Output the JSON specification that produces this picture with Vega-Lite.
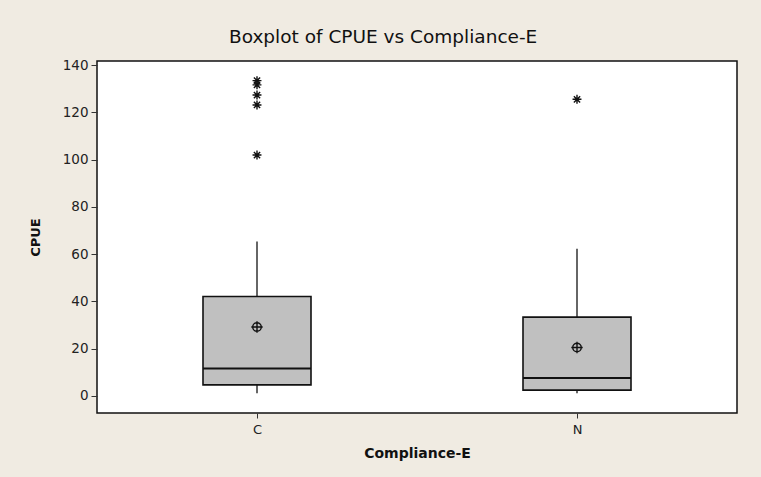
{
  "$schema": "https://vega.github.io/schema/vega-lite/v6.json",
  "width": 640,
  "height": 352,
  "autosize": {"type": "none"},
  "padding": {"left": 97, "top": 61, "right": 24, "bottom": 64},
  "background": "#f0ebe2",
  "title": {
    "text": "Boxplot of CPUE vs Compliance-E",
    "frame": "bounds",
    "anchor": "middle",
    "font": "DejaVu Sans",
    "fontSize": 18.5,
    "fontWeight": "normal",
    "color": "#111111",
    "offset": 12
  },
  "config": {
    "view": {"stroke": "#111111", "strokeWidth": 1.5, "fill": "white"},
    "axis": {
      "labelFont": "DejaVu Sans",
      "titleFont": "DejaVu Sans",
      "labelColor": "#222222",
      "titleColor": "#111111",
      "tickColor": "#333333",
      "domain": false,
      "grid": false
    }
  },
  "datasets": {
    "stats": [
      {"Compliance": "C", "lower": 1.1, "q1": 4.6, "median": 11.5, "q3": 42.0, "upper": 65.3, "mean": 29.1},
      {"Compliance": "N", "lower": 1.1, "q1": 2.4, "median": 7.5, "q3": 33.3, "upper": 62.2, "mean": 20.4}
    ],
    "outliers": [
      {"Compliance": "C", "CPUE": 133.4},
      {"Compliance": "C", "CPUE": 131.6},
      {"Compliance": "C", "CPUE": 127.3},
      {"Compliance": "C", "CPUE": 123.1},
      {"Compliance": "C", "CPUE": 101.9},
      {"Compliance": "N", "CPUE": 125.5}
    ]
  },
  "encoding": {
    "x": {
      "field": "Compliance",
      "type": "nominal",
      "scale": {"type": "point", "padding": 0.5, "domain": ["C", "N"]},
      "axis": {
        "title": "Compliance-E",
        "labelAngle": 0,
        "labelFontSize": 13,
        "titleFontSize": 14,
        "titleFontWeight": "bold",
        "tickSize": 5,
        "labelPadding": 5,
        "titlePadding": 10
      }
    }
  },
  "layer": [
    {
      "data": {"name": "stats"},
      "mark": {"type": "rule", "color": "#333333", "strokeWidth": 1.5},
      "encoding": {
        "y": {
          "field": "lower",
          "type": "quantitative",
          "scale": {"domain": [-7.3, 141.7], "nice": false, "zero": false},
          "axis": {
            "title": "CPUE",
            "values": [0, 20, 40, 60, 80, 100, 120, 140],
            "labelFontSize": 13.5,
            "titleFontSize": 13,
            "titleFontWeight": "bold",
            "tickSize": 6,
            "labelPadding": 3,
            "titlePadding": 20
          }
        },
        "y2": {"field": "q1"}
      }
    },
    {
      "data": {"name": "stats"},
      "mark": {"type": "rule", "color": "#333333", "strokeWidth": 1.5},
      "encoding": {
        "y": {"field": "q3", "type": "quantitative"},
        "y2": {"field": "upper"}
      }
    },
    {
      "data": {"name": "stats"},
      "mark": {"type": "bar", "size": 108, "fill": "#c0c0c0", "stroke": "#111111", "strokeWidth": 1.6},
      "encoding": {
        "y": {"field": "q1", "type": "quantitative"},
        "y2": {"field": "q3"}
      }
    },
    {
      "data": {"name": "stats"},
      "mark": {"type": "tick", "size": 108, "thickness": 2, "color": "#111111", "opacity": 1},
      "encoding": {
        "y": {"field": "median", "type": "quantitative"}
      }
    },
    {
      "data": {"name": "stats"},
      "mark": {
        "type": "point",
        "shape": "M-0.75,0A0.75,0.75 0 1,1 0.75,0A0.75,0.75 0 1,1 -0.75,0ZM-1,0L1,0M0,-1L0,1",
        "size": 130,
        "filled": false,
        "stroke": "#111111",
        "strokeWidth": 1.4,
        "opacity": 1
      },
      "encoding": {
        "y": {"field": "mean", "type": "quantitative"}
      }
    },
    {
      "data": {"name": "outliers"},
      "mark": {
        "type": "point",
        "shape": "M0,-1L0,1M-1,0L1,0M-0.7,-0.7L0.7,0.7M-0.7,0.7L0.7,-0.7",
        "size": 80,
        "filled": false,
        "stroke": "#111111",
        "strokeWidth": 1.4,
        "opacity": 1
      },
      "encoding": {
        "y": {"field": "CPUE", "type": "quantitative"}
      }
    }
  ]
}
